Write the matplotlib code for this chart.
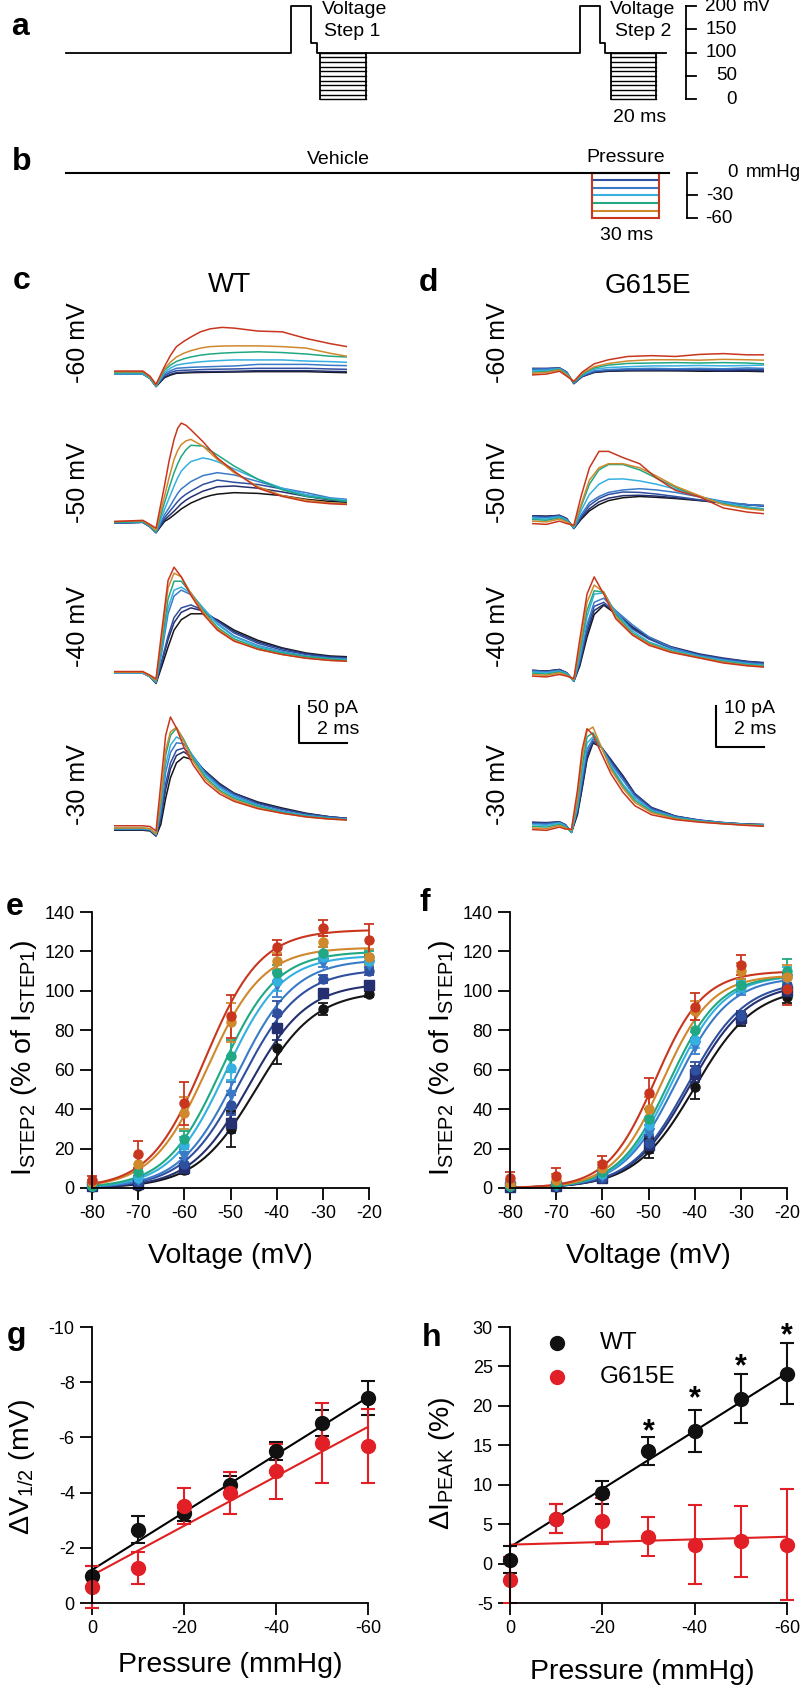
import numpy as np
import matplotlib
matplotlib.use("Agg")
import matplotlib.pyplot as plt

plt.rcParams['font.family'] = ['Liberation Sans', 'DejaVu Sans']
plt.rcParams['axes.unicode_minus'] = False
plt.rcParams['mathtext.fontset'] = 'custom'
plt.rcParams['mathtext.rm'] = 'Liberation Sans'
plt.rcParams['mathtext.it'] = 'Liberation Sans'
plt.rcParams['mathtext.default'] = 'regular'

W, H = 800, 1689

# colours: vehicle, then 0, -10 ... -60 mmHg
cols = ['#151515', '#24306f', '#2f4f9f', '#3a7bc8', '#35b0e0', '#1fa882', '#d0882c', '#c8361e']
marks = ['o', 's', 'o', 'v', 'o', 'o', 'o', 'o']

# ---------------- a / b : protocols
prot_t = [0, 98, 106.5, 109, 223.5, 232, 234.5, 261]
prot_v = [100, 200, 120, 100, 200, 120, 100, 100]
step_boxes = [(110.5, 130.5), (237, 256.5)]
step_levels = [100, 90, 80, 70, 60, 50, 40, 30, 20, 10, 0]
mv_ticks = [0, 50, 100, 150, 200]

press_t = [0, 262]
press_box = (228.7, 257.8)
press_levels = [0, -10, -20, -30, -40, -50, -60]
mmhg_ticks = [0, -30, -60]

# ---------------- c : WT traces (pA), 8 sweeps each, vehicle .. -60 mmHg
wt_t60 = [0, 1.2, 1.5, 1.75, 2.1, 2.35, 2.6, 2.9, 3.2, 3.6, 4.0, 4.5, 5.0, 6.0, 7.0, 8.0, 9.0, 9.7]
wt_60 = [
    [0, 0, -6, -17, -5, -1.5, 0.9, 1.4, 1.8, 2.1, 2.3, 2.5, 2.7, 3.2, 3.2, 3.2, 2.3, 1.8],
    [0, 0, -6, -17, -4, -0.5, 1.8, 2.3, 2.7, 3.0, 3.2, 3.4, 3.6, 4.5, 4.5, 4.5, 3.6, 3.2],
    [1, 1, -5, -16, -2, 2, 4.5, 5.0, 5.4, 5.9, 6.3, 6.6, 6.8, 7.7, 7.7, 7.7, 6.8, 6.3],
    [1, 1, -5, -16, 0, 4.5, 7.7, 8.4, 9, 9.5, 9.9, 10.4, 10.8, 13, 13, 13, 11.7, 11.3],
    [0, 0, -6, -17, 2, 8, 12, 13.8, 15, 16.5, 17.5, 18.3, 19, 19, 19, 17.5, 16.7, 15.8],
    [2, 2, -5, -16, 5, 12, 17, 20.5, 23, 25.5, 27, 28.2, 29, 30, 29, 27, 24, 23],
    [3, 3, -4, -15, 7, 16, 23, 28, 31.5, 35, 37, 37.8, 38, 38, 37, 35, 28, 24],
    [4, 4, -3, -14, 10, 25, 37, 44, 50, 57, 61, 63, 62, 58, 57, 48, 41, 37],
]
wt_t50 = [0, 1.2, 1.5, 1.75, 2.1, 2.3, 2.5, 2.65, 2.8, 3.0, 3.2, 3.7, 4.0, 4.3, 5.0, 6.0, 7.0, 8.0, 9.0, 9.7]
wt_50 = [
    [0, 1, -5, -13, 2, 6, 11, 15, 19, 23, 27, 34, 37, 39, 41, 40, 37, 32, 29, 28],
    [0, 1, -5, -13, 4, 10, 16, 21, 26, 31, 35, 43, 46, 49, 50, 47, 42, 36, 31, 29],
    [0, 1, -5, -13, 7, 15, 23, 29, 34, 39, 43, 52, 55, 58, 55, 52, 46, 38, 33, 30],
    [0, 1, -5, -13, 11, 21, 32, 40, 46, 51, 56, 64, 66, 68, 65, 56, 47, 41, 34, 32],
    [1, 2, -4, -12, 18, 34, 50, 61, 70, 77, 83, 88, 86, 83, 73, 59, 47, 38, 33, 31],
    [1, 2, -4, -12, 27, 48, 68, 80, 90, 99, 105, 104, 98, 92, 77, 59, 45, 36, 32, 29],
    [2, 3, -3, -10, 36, 62, 86, 98, 106, 111, 113, 104, 95, 86, 68, 49, 37, 31, 27, 26],
    [2, 3.6, -2, -7, 50, 85, 113, 128, 135, 132, 126, 110, 99, 88, 70, 47, 36, 29, 26, 25],
]
wt_t40 = [0, 1.2, 1.5, 1.75, 2.0, 2.25, 2.5, 2.8, 3.2, 3.7, 4.3, 5.0, 6.0, 7.0, 8.0, 9.0, 9.7]
wt_40 = [
    [0, 0, -5, -14, 10, 35, 58, 72, 80, 80, 72, 58, 44, 34, 27, 23, 22],
    [0, 0, -5, -13, 15, 45, 68, 82, 88, 84, 71, 56, 42, 33, 26, 22, 21],
    [0, 0, -5, -13, 18, 50, 75, 88, 92, 85, 70, 54, 40, 31, 25, 21, 20],
    [0, 0, -5, -13, 30, 80, 104, 112, 106, 88, 67, 50, 37, 29, 23, 20, 19],
    [0, 0, -5, -12, 35, 88, 112, 116, 108, 88, 66, 49, 36, 28, 22, 19, 18],
    [1, 1, -4, -11, 42, 100, 124, 124, 108, 85, 62, 46, 34, 27, 22, 19, 17],
    [1, 1, -4, -10, 50, 115, 135, 130, 108, 83, 60, 44, 32, 25, 20, 17, 16],
    [2, 2, -3, -8, 60, 125, 143, 130, 105, 80, 58, 43, 32, 25, 20, 17, 16],
]
wt_t30 = [0, 1.2, 1.5, 1.75, 1.95, 2.15, 2.35, 2.6, 2.9, 3.3, 3.8, 4.4, 5.0, 6.0, 7.0, 8.0, 9.0, 9.7]
wt_30 = [
    [-3, -3, -4, -11, 5, 40, 68, 88, 96, 92, 77, 60, 47, 35, 27, 20, 15, 13],
    [-2, -2, -3, -10, 12, 52, 80, 98, 103, 94, 76, 59, 47, 34, 26, 19, 15, 13],
    [-2, -2, -3, -10, 15, 60, 88, 105, 108, 96, 76, 58, 46, 33, 25, 19, 15, 13],
    [-1, -1, -2, -9, 22, 75, 102, 115, 114, 97, 74, 56, 44, 31, 23, 17, 14, 12],
    [-1, -1, -2, -9, 28, 85, 112, 123, 118, 96, 72, 54, 42, 30, 22, 17, 13, 12],
    [0, 0, -1, -8, 35, 98, 125, 135, 120, 93, 69, 51, 40, 29, 21, 16, 13, 11],
    [0, 0, -1, -8, 40, 105, 130, 136, 118, 90, 66, 49, 38, 27, 20, 15, 12, 11],
    [3, 3, 2, -4, 60, 125, 150, 135, 110, 85, 62, 46, 36, 26, 20, 15, 12, 11],
]

# ---------------- d : G615E traces (pA)
mu_t60 = [0, 0.6, 1.15, 1.45, 1.75, 2.1, 2.6, 3.2, 4.0, 5.0, 6.0, 7.0, 8.0, 9.0, 9.7]
mu_60 = [
    [0.2, 0.2, 0.4, -0.6, -3.3, -1.6, -0.6, -0.3, -0.2, -0.2, -0.2, -0.3, -0.3, -0.3, -0.4],
    [0.4, 0.4, 0.5, -0.5, -3.3, -1.6, -0.5, -0.2, -0.1, 0, -0.1, 0, -0.2, -0.1, -0.2],
    [0.3, 0.3, 0.5, -0.5, -3.3, -1.5, -0.4, 0, 0.1, 0.1, 0.2, 0.1, 0.1, 0.2, 0.1],
    [0.2, 0.2, 0.4, -0.6, -3.2, -1.4, -0.2, 0.1, 0.3, 0.4, 0.3, 0.4, 0.3, 0.5, 0.4],
    [-0.2, -0.1, 0.3, -0.8, -3.0, -1.2, 0.2, 0.6, 0.8, 1.0, 1.0, 1.1, 1.0, 1.1, 1.2],
    [-0.5, -0.4, 0.2, -1.0, -3.0, -1.0, 0.5, 1.2, 1.6, 1.7, 1.8, 1.7, 1.8, 1.7, 1.5],
    [-0.8, -0.6, 0, -1.2, -2.8, -0.8, 0.8, 1.6, 2.2, 2.5, 2.5, 2.4, 2.6, 2.5, 2.4],
    [-1.2, -1.0, -0.3, -1.5, -2.8, -0.5, 1.5, 2.5, 3.3, 3.5, 3.3, 3.8, 4.0, 3.7, 3.7],
]
mu_t50 = [0, 0.6, 1.15, 1.45, 1.75, 2.05, 2.4, 2.8, 3.2, 3.8, 4.5, 5.2, 6.0, 7.0, 8.0, 9.0, 9.7]
mu_50 = [
    [0.3, 0.2, 0.4, -0.4, -2.8, -0.6, 1.5, 3, 4, 4.7, 5, 4.8, 4.5, 4, 3.4, 3, 2.8],
    [0.3, 0.1, 0.4, -0.4, -2.8, -0.3, 2, 3.7, 4.6, 5.2, 5.3, 5.1, 4.7, 4.1, 3.4, 3.0, 2.7],
    [0.2, 0, 0.3, -0.5, -2.8, 0, 2.8, 4.5, 5.5, 6.1, 6, 5.6, 5, 4.2, 3.5, 3, 2.6],
    [0, -0.2, 0.2, -0.6, -2.7, 0.5, 3.5, 5, 6, 6.6, 6.9, 6.6, 6, 4.9, 3.8, 3, 2.8],
    [-0.3, -0.5, 0, -0.8, -2.6, 1.5, 5.5, 8, 9.2, 9.3, 8.8, 8, 6.8, 5, 3.5, 2.5, 2],
    [-0.6, -0.8, -0.2, -1.0, -2.4, 2.5, 8, 11.5, 12.8, 12.8, 11.5, 9.5, 7.2, 5, 3.2, 2.2, 1.8],
    [-1.0, -1.2, -0.5, -1.2, -2.2, 3, 9, 12, 13, 13, 12, 10, 7.5, 5.2, 3, 2, 1.6],
    [-1.6, -1.8, -1.0, -1.6, -2.0, 5, 12, 16, 16, 14.5, 13, 9.5, 6.5, 4.9, 2.2, 1.2, 0.8],
]
mu_t40 = [0, 0.6, 1.15, 1.45, 1.75, 2.0, 2.3, 2.6, 3.0, 3.5, 4.2, 4.9, 5.8, 7.0, 8.0, 9.0, 9.7]
mu_40 = [
    [0.4, 0.2, 0.6, -0.2, -2.3, 1.5, 8.5, 14, 16.3, 14.2, 10.8, 8.2, 6, 4.1, 3.2, 2.5, 2.2],
    [0.4, 0.2, 0.6, -0.2, -2.2, 2, 9.5, 15, 16.5, 14.5, 11, 8.5, 6.2, 4.4, 3.4, 2.6, 2.3],
    [0.3, 0.1, 0.5, -0.2, -2.2, 2.5, 10.5, 16, 17, 14.5, 10.5, 8, 5.8, 4.2, 3.2, 2.5, 2.1],
    [0.2, 0, 0.4, -0.3, -2.2, 3, 11.5, 17, 18, 15, 11.5, 8.5, 6, 4, 3, 2.2, 1.9],
    [0, -0.2, 0.2, -0.4, -2.2, 4, 13.5, 19, 19.3, 14.5, 10, 7.3, 5.5, 3.8, 2.8, 2, 1.6],
    [-0.3, -0.5, 0, -0.6, -2, 5, 15, 19.8, 19.5, 14, 9.5, 7, 5.2, 3.6, 2.6, 1.8, 1.5],
    [-0.6, -0.8, -0.2, -0.8, -1.8, 6, 17, 21.2, 19.5, 13.5, 9.2, 6.8, 5, 3.5, 2.4, 1.6, 1.3],
    [-1.0, -1.2, -0.6, -1.0, -1.6, 8, 19, 23.2, 19, 13, 9, 6.5, 4.8, 3.4, 2.2, 1.5, 1.2],
]
mu_t30 = [0, 0.6, 1.15, 1.4, 1.65, 1.9, 2.1, 2.3, 2.55, 2.9, 3.3, 3.8, 4.3, 5.0, 6.0, 7.0, 8.0, 9.0, 9.7]
mu_30 = [
    [0.1, 0, 0.2, -0.5, -2.3, 2, 8.5, 15.5, 19.5, 18.5, 15.2, 11.5, 7.0, 3.6, 1.6, 0.6, 0, -0.3, -0.4],
    [0.2, 0.1, 0.3, -0.4, -2.3, 2.5, 9, 16, 19.8, 18.5, 15.5, 11.5, 7.2, 3.8, 1.7, 0.7, 0.1, -0.3, -0.4],
    [0, -0.1, 0.2, -0.5, -2.3, 3, 10, 17, 20, 18.5, 15, 11, 7, 3.6, 1.6, 0.7, 0.1, -0.3, -0.4],
    [-0.2, -0.3, 0.1, -0.6, -2.3, 3.5, 11, 18, 20.5, 18.5, 14.5, 10.5, 6.5, 3.3, 1.5, 0.6, 0, -0.4, -0.5],
    [-0.4, -0.6, 0, -0.8, -2.3, 4, 12, 19.5, 21, 18.5, 14, 9.5, 6, 3, 1.3, 0.5, 0, -0.4, -0.5],
    [-0.8, -1.0, -0.3, -1.0, -2.0, 5, 14, 21, 22, 18.5, 13.5, 9, 5.5, 2.8, 1.2, 0.4, -0.1, -0.5, -0.6],
    [-1.2, -1.4, -0.6, -1.2, -1.8, 6, 16, 22.5, 23.4, 18.5, 13, 8.5, 5, 2.5, 1, 0.3, -0.2, -0.5, -0.7],
    [-1.6, -1.8, -1.0, -1.5, -1.5, 8, 18, 23, 21.5, 17, 12, 7.5, 4.2, 2, 0.8, 0.2, -0.2, -0.6, -0.8],
]

# ---------------- e / f : I-V (% of I_STEP1)
volts = [-80, -70, -60, -50, -40, -30, -20]
wt_iv = [
    [0.5, 1, 9, 30, 71, 91, 98.5],
    [1, 2, 10, 33, 81, 99, 103],
    [1, 3, 12, 42, 89, 106, 110],
    [1, 4, 16, 47, 103, 114, 113],
    [1, 5, 22, 61, 105, 117, 115],
    [1, 8, 25, 67, 109, 119, 117],
    [3, 12, 38, 84, 115, 125, 117],
    [4, 17, 43, 87, 122, 132, 126],
]
wt_iv_err = [
    [0.5, 0.5, 2, 9, 8, 3, 1.5],
    [0.5, 0.5, 2, 5, 6, 2, 2],
    [0.5, 1, 3, 5, 6, 2, 2],
    [0.5, 1, 4, 7, 6, 2, 2],
    [0.5, 1, 4, 6, 5, 2, 2],
    [0.5, 2, 4, 8, 4, 3, 3],
    [1, 4, 8, 10, 4, 3, 4],
    [2, 7, 11, 11, 4, 4, 8],
]
wt_fit = [(100, -44.5, 6.5), (104, -46, 6.3), (111, -47.5, 6.3), (116, -48.5, 6.2),
          (118, -51, 6), (120, -52, 6), (122, -55, 6), (131, -55.5, 6)]

mu_iv = [
    [0.5, 0.5, 5, 20, 51, 86, 97],
    [0.5, 1, 5, 22, 58, 86, 100],
    [1, 1, 5, 23, 60, 87, 103],
    [1, 1, 6, 28, 72, 101, 106],
    [1, 2, 7, 32, 75, 102, 107],
    [1, 2, 8, 35, 80, 103, 110],
    [2, 4, 10, 40, 90, 110, 107],
    [5, 6, 12, 48, 92, 113, 101],
]
mu_iv_err = [
    [0.5, 0.5, 1, 5, 6, 4, 3],
    [0.5, 0.5, 1, 4, 4, 3, 3],
    [0.5, 0.5, 1, 4, 4, 3, 3],
    [0.5, 1, 1, 4, 4, 3, 3],
    [0.5, 1, 1, 4, 4, 3, 5],
    [1, 1, 2, 5, 5, 3, 6],
    [2, 3, 3, 6, 5, 4, 6],
    [3, 4, 4, 8, 7, 5, 8],
]
mu_fit = [(102, -40, 6.5), (104, -41, 6.3), (105, -41.5, 6.2), (107, -44, 5.8),
          (108, -44.8, 5.6), (108, -45.5, 5.5), (108, -47, 5.3), (110, -48.5, 5.2)]

# ---------------- g / h
pressure = [0, -10, -20, -30, -40, -50, -60]
wt_dv = [-0.97, -2.66, -3.26, -4.29, -5.5, -6.52, -7.43]
wt_dv_err = [0.36, 0.48, 0.3, 0.3, 0.33, 0.47, 0.63]
mu_dv = [-0.58, -1.27, -3.53, -3.99, -4.77, -5.8, -5.68]
mu_dv_err = [0.77, 0.59, 0.65, 0.77, 1.0, 1.45, 1.35]
wt_dv_line = (-1.2, 0.1043)   # intercept, slope
mu_dv_line = (-1.0, 0.0897)

wt_di = [0.5, 5.7, 9.0, 14.3, 16.8, 20.9, 24.1]
wt_di_err = [1.7, 1.8, 1.5, 1.8, 2.7, 3.1, 3.9]
mu_di = [-2.1, 5.7, 5.4, 3.4, 2.4, 2.8, 2.4]
mu_di_err = [2.9, 1.8, 2.9, 2.5, 5.0, 4.5, 7.0]
wt_di_line = (2.1, -0.368)
mu_di_line = (2.4, -0.0167)
star_p = [-30, -40, -50, -60]
star_y = [17.8, 22.0, 26.1, 30.0]


fig = plt.figure(figsize=(W / 100, H / 100), dpi=100)


def px_ax(x0, y0, x1, y1):
    return fig.add_axes([x0 / W, 1 - y1 / H, (x1 - x0) / W, (y1 - y0) / H])


def ftxt(x, y, s, **kw):
    fig.text(x / W, 1 - y / H, s, **kw)


def ms(px):  # protocol time axis, 2.3 px per ms from x=66
    return (px - 66) / 2.3


# ---- a
ax = px_ax(0, 0, 800, 130)
ax.set_xlim(ms(0), ms(800))
ax.set_ylim(-65.9, 213.1)
ax.axis('off')
ax.plot(prot_t, prot_v, color='k', lw=1.3, drawstyle='steps-post')
for t0, t1 in step_boxes:
    for v in step_levels:
        ax.plot([t0, t1], [v, v], color='k', lw=1.0)
    ax.plot([t0, t0], [100, 0], color='k', lw=1.3)
    ax.plot([t1, t1], [100, 0], color='k', lw=1.3)
ax.plot([ms(686)] * 2, [0, 200], color='k', lw=1.3)
for v in mv_ticks:
    ax.plot([ms(686), ms(696)], [v, v], color='k', lw=1.3)
    ftxt(737, 52.7 - (v - 100) * 0.466, str(v), ha='right', va='center', fontsize=13.5)
ftxt(743, 52.7 - 100 * 0.466, 'mV', ha='left', va='center', fontsize=13.5)
ftxt(355, 10, 'Voltage', ha='center', va='center', fontsize=14)
ftxt(352, 32, 'Step 1', ha='center', va='center', fontsize=14)
ftxt(643, 10, 'Voltage', ha='center', va='center', fontsize=14)
ftxt(643, 32, 'Step 2', ha='center', va='center', fontsize=14)
ftxt(640, 118, '20 ms', ha='center', va='center', fontsize=14)

# ---- b
ax = px_ax(0, 140, 800, 250)
ax.set_xlim(ms(0), ms(800))
ax.set_ylim(-101.7, 43.0)
ax.axis('off')
for i, p in enumerate(press_levels):
    ax.plot(press_box, [p, p], color=cols[i + 1], lw=1.5)
ax.plot([press_box[0]] * 2, [0, -60], color=cols[7], lw=1.5)
ax.plot([press_box[1]] * 2, [0, -60], color=cols[7], lw=1.5)
ax.plot(press_t, [0, 0], color='k', lw=1.5)
ax.plot([ms(687)] * 2, [0, -60], color='k', lw=1.3)
for p in mmhg_ticks:
    ax.plot([ms(687), ms(697)], [p, p], color='k', lw=1.3)
ftxt(738, 172.7, '0', ha='right', va='center', fontsize=13.5)
ftxt(746, 172.7, 'mmHg', ha='left', va='center', fontsize=13.5)
ftxt(733, 195.5, '-30', ha='right', va='center', fontsize=13.5)
ftxt(733, 218.3, '-60', ha='right', va='center', fontsize=13.5)
ftxt(338, 159, 'Vehicle', ha='center', va='center', fontsize=14)
ftxt(626, 158, 'Pressure', ha='center', va='center', fontsize=14)
ftxt(627, 235, '30 ms', ha='center', va='center', fontsize=14)

# ---- c / d traces
wt_rows = [(wt_t60, wt_60), (wt_t50, wt_50), (wt_t40, wt_40), (wt_t30, wt_30)]
mu_rows = [(mu_t60, mu_60), (mu_t50, mu_50), (mu_t40, mu_40), (mu_t30, mu_30)]
row_names = ['-60 mV', '-50 mV', '-40 mV', '-30 mV']
label_y = [343, 483, 627, 785]

for rows, x0, x1, ppa, bases, lab_x in [
        (wt_rows, 114, 347, 0.74, [374, 523, 673, 828], 78),
        (mu_rows, 532, 764, 4.1, [370, 517, 672, 823], 498)]:
    for r, (tt, tr) in enumerate(rows):
        b = bases[r]
        ax = px_ax(x0, b - 130, x1, b + 25)
        ax.set_xlim(0, 9.7)
        ax.set_ylim(-25 / ppa, 130 / ppa)
        ax.axis('off')
        for i in range(8):
            ax.plot(tt, tr[i], color=cols[i], lw=1.1)
        ftxt(lab_x, label_y[r], row_names[r], rotation=90, ha='center', va='center', fontsize=18)
    last = ax

    # scale bar in the -30 mV row
    bar_len = 50 if ppa < 1 else 10
    bx = 9.7 - 2.0
    top = (b - 706) / ppa
    last.plot([bx, bx, 9.7], [top, top - bar_len, top - bar_len], color='k', lw=1.5, clip_on=False)
    ftxt(x1 - 40, 708, '%d pA' % bar_len, ha='left', va='center', fontsize=14)
    ftxt(x1 + 12, 730, '2 ms', ha='right', va='center', fontsize=14)

ftxt(229, 285, 'WT', ha='center', va='center', fontsize=20)
ftxt(648, 286, 'G615E', ha='center', va='center', fontsize=20)


def style(ax):
    for s in ['top', 'right']:
        ax.spines[s].set_visible(False)
    for s in ['left', 'bottom']:
        ax.spines[s].set_linewidth(1.3)
    ax.tick_params(direction='out', length=8.5, width=1.3, labelsize=13, pad=4)


def unclip(ax):
    for ch in ax.get_children():
        try:
            ch.set_clip_on(False)
        except Exception:
            pass


# ---- e / f
vv = np.linspace(-80, -20, 200)
for x0, iv, err, fits, lx in [(92, wt_iv, wt_iv_err, wt_fit, 24),
                              (510, mu_iv, mu_iv_err, mu_fit, 442)]:
    ax = px_ax(x0, 912, x0 + 277, 1188)
    ax.set_xlim(-80, -20)
    ax.set_ylim(0, 140)
    style(ax)
    ax.set_xticks(volts)
    ax.set_yticks(range(0, 141, 20))
    for i in range(8):
        imax, vh, k = fits[i]
        ax.plot(vv, imax / (1 + np.exp((vh - vv) / k)), color=cols[i], lw=1.5)
    for i in range(8):
        ax.errorbar(volts, iv[i], yerr=err[i], fmt=marks[i], color=cols[i], ms=6.5,
                    capsize=3.5, elinewidth=1.3, capthick=1.3)
    unclip(ax)
    ftxt(lx, 1058, r'I$_{STEP2}$ (% of I$_{STEP1}$)', rotation=90, ha='center', va='center', fontsize=20.5)
    ftxt(x0 + 138, 1256, 'Voltage (mV)', ha='center', va='center', fontsize=20.5)

# ---- g
pp = np.array([0, -60])
ax = px_ax(92, 1327, 368, 1603)
ax.set_xlim(0, -60)
ax.set_ylim(0, -10)
style(ax)
ax.set_xticks([0, -20, -40, -60])
ax.set_yticks([0, -2, -4, -6, -8, -10])
ax.plot(pp, wt_dv_line[0] + wt_dv_line[1] * pp, color='k', lw=1.5)
ax.plot(pp, mu_dv_line[0] + mu_dv_line[1] * pp, color='#e02020', lw=1.5)
ax.errorbar(pressure, wt_dv, yerr=wt_dv_err, fmt='o', color='#111111', ms=10,
            capsize=5, elinewidth=1.5, capthick=1.5)
ax.errorbar(pressure, mu_dv, yerr=mu_dv_err, fmt='o', color='#e21f26', ms=10,
            capsize=5, elinewidth=1.5, capthick=1.5)
unclip(ax)
ftxt(22, 1467, r'ΔV$_{1/2}$ (mV)', rotation=90, ha='center', va='center', fontsize=20.5)
ftxt(230, 1665, 'Pressure (mmHg)', ha='center', va='center', fontsize=20.5)

# ---- h
ax = px_ax(510, 1327, 787, 1603)
ax.set_xlim(0, -60)
ax.set_ylim(-5, 30)
style(ax)
ax.set_xticks([0, -20, -40, -60])
ax.set_yticks(range(-5, 31, 5))
ax.plot(pp, wt_di_line[0] + wt_di_line[1] * pp, color='k', lw=1.5)
ax.plot(pp, mu_di_line[0] + mu_di_line[1] * pp, color='#e02020', lw=1.5)
ax.errorbar(pressure, wt_di, yerr=wt_di_err, fmt='o', color='#111111', ms=10,
            capsize=5, elinewidth=1.5, capthick=1.5)
ax.errorbar(pressure, mu_di, yerr=mu_di_err, fmt='o', color='#e21f26', ms=10,
            capsize=5, elinewidth=1.5, capthick=1.5)
for p, y in zip(star_p, star_y):
    ax.annotate('*', (p, y), xytext=(0, -12.5), textcoords='offset points',
                ha='center', va='baseline', fontsize=22, fontweight='bold')
ax.plot([0.17], [0.942], 'o', color='#111111', ms=10, transform=ax.transAxes)
ax.plot([0.17], [0.819], 'o', color='#e21f26', ms=10, transform=ax.transAxes)
ax.text(0.325, 0.942, 'WT', transform=ax.transAxes, ha='left', va='center', fontsize=17.5)
ax.text(0.325, 0.819, 'G615E', transform=ax.transAxes, ha='left', va='center', fontsize=17.5)
unclip(ax)
ftxt(442, 1463, r'ΔI$_{PEAK}$ (%)', rotation=90, ha='center', va='center', fontsize=20.5)
ftxt(642, 1672, 'Pressure (mmHg)', ha='center', va='center', fontsize=20.5)

# ---- panel letters
for s, x, y in [('a', 20, 35), ('b', 22, 170), ('c', 22, 289), ('d', 428, 291),
                ('e', 15, 915), ('f', 425, 911), ('g', 17, 1344), ('h', 432, 1346)]:
    ftxt(x, y, s, ha='center', va='baseline', fontsize=23, fontweight='bold')

fig.savefig('out.png', dpi=100)
